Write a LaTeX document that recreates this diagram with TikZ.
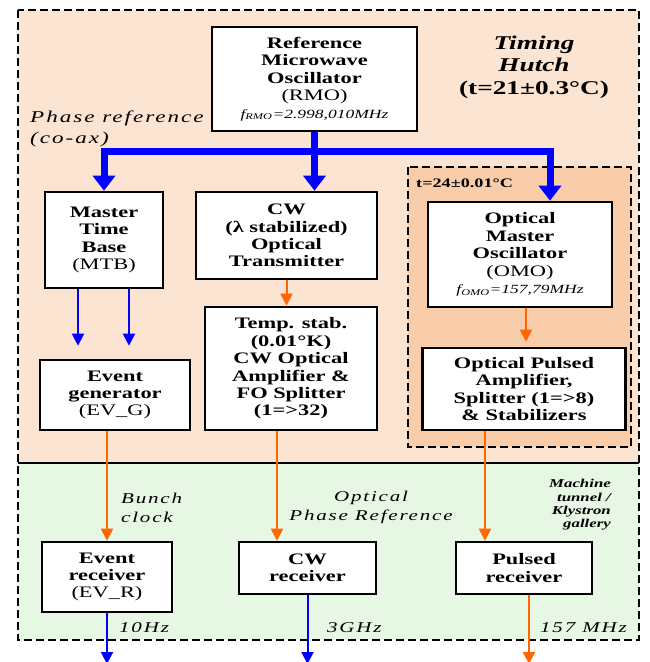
\documentclass[tikz,border=0pt]{standalone}
\usepackage{fontspec}
\setmainfont{Liberation Serif}[FakeStretch=1.4]
\newfontfamily\labfont{Liberation Serif}[FakeStretch=1.4,LetterSpace=12]
\usetikzlibrary{arrows.meta}
\definecolor{peach}{RGB}{252,228,210}
\definecolor{innerorange}{RGB}{249,204,170}
\definecolor{palegreen}{RGB}{230,247,228}
\definecolor{myorange}{RGB}{255,102,0}
\definecolor{myblue}{RGB}{0,0,255}
\tikzset{
  box/.style={draw=black, line width=2.6pt, fill=white, align=center, inner sep=0pt,
    font=\fontsize{16}{17.4}\selectfont\bfseries},
  region/.style={draw=black, line width=2.5pt, dash pattern=on 8pt off 4pt},
  thinblue/.style={draw=myblue, line width=2pt, -{Triangle[width=12pt,length=12pt]}, fill=myblue},
  thinorange/.style={draw=myorange, line width=2pt, -{Triangle[width=12pt,length=12pt]}, fill=myorange},
  bus/.style={draw=myblue, line width=7pt, line join=miter},
  bigtip/.tip={Triangle[width=22pt,length=15pt]},
  lab/.style={inner sep=0pt, font=\labfont\itshape\fontsize{15}{19}\selectfont},
  biglab/.style={inner sep=0pt, anchor=west, font=\labfont\itshape\fontsize{16.5}{19}\selectfont},
  freq/.style={inner sep=0pt, font=\labfont\itshape\fontsize{15}{19}\selectfont, anchor=west}
}
\newcommand{\fsmall}{\mdseries\itshape\fontsize{12.5}{14}\selectfont}
\begin{document}
\begin{tikzpicture}[x=1pt,y=-1pt]
\useasboundingbox (0,0) rectangle (649,662);
\clip (0,0) rectangle (649,662);
\fill[white] (0,0) rectangle (649,662);
% regions
\fill[peach] (18,10) rectangle (639,463);
\fill[palegreen] (18,463) rectangle (639,640);
\fill[innerorange] (408,167) rectangle (631,447);
\draw[region] (408,167) rectangle (631,447);
\draw[line width=2.5pt] (18,463) -- (639,463);
\draw[region] (18,10) rectangle (639,640);
% texts of regions
\node[align=center, inner sep=0pt, font=\fontsize{19.5}{22.5}\selectfont\bfseries] (hutch) at (534,67)
  {\itshape Timing\\\itshape Hutch\\(t=21±0.3°C)};
\node[anchor=west, inner sep=0pt, font=\fontsize{13}{15}\selectfont\bfseries] (t24) at (416,183) {t=24±0.01°C};
\node[biglab] (phref) at (30,118) {Phase reference};
\node[biglab] (coax) at (30,140) {(co-ax)};
\node[lab, anchor=west, align=left] (bunch) at (121,507.5) {Bunch\\clock};
\node[lab, align=center] (opr) at (371,507.5) {Optical\\Phase Reference};
\node[anchor=east, align=right, inner sep=0pt, font=\fontsize{12}{13.3}\selectfont\bfseries\itshape] (tunnel) at (611,505)
  {Machine\\tunnel /\\Klystron\\gallery};
% boxes
\node[box, minimum width=205pt, minimum height=104pt] (RMO) at (314.5,79)
  {Reference\\Microwave\\Oscillator\\{\mdseries (RMO)}\\{\fsmall f\textsubscript{RMO}=2.998,010MHz}};
\node[box, minimum width=118pt, minimum height=96pt] (MTB) at (104,240)
  {Master\\Time\\Base\\{\mdseries (MTB)}};
\node[box, minimum width=181pt, minimum height=87pt] (CW) at (286.5,235.5)
  {CW\\(λ stabilized)\\Optical\\Transmitter};
\node[box, minimum width=184pt, minimum height=105pt] (OMO) at (520,254.5)
  {Optical\\Master\\Oscillator\\{\mdseries (OMO)}\\{\fsmall f\textsubscript{OMO}=157,79MHz}};
\node[box, minimum width=150pt, minimum height=70pt] (EvG) at (115,395)
  {Event\\generator\\{\mdseries (EV\_G)}};
\node[box, minimum width=172pt, minimum height=123pt] (Temp) at (291,368.5)
  {Temp. stab.\\(0.01°K)\\CW Optical\\Amplifier \&\\FO Splitter\\(1=>32)};
\node[box, minimum width=203pt, minimum height=82pt] (OPA) at (524,389)
  {Optical Pulsed\\Amplifier,\\Splitter (1=>8)\\\& Stabilizers};
\node[box, minimum width=130pt, minimum height=70pt] (EvR) at (107,577)
  {Event\\receiver\\{\mdseries (EV\_R)}};
\node[box, minimum width=137pt, minimum height=52pt] (CWR) at (307.5,568)
  {CW\\receiver};
\node[box, minimum width=136pt, minimum height=52pt] (PR) at (524,568)
  {Pulsed\\receiver};
% bus
\coordinate (busR) at (550,151);
\draw[bus, bigtip-bigtip] (MTB.north) |- (busR) -- (busR |- OMO.north);
\draw[bus, -bigtip] (RMO.south) -- (RMO.south |- CW.north);
% MTB -> EvG
\coordinate (m1) at ([xshift=-26pt]MTB.south);
\coordinate (m2) at ([xshift=25pt]MTB.south);
\draw[thinblue, shorten >=13pt] (m1) -- (m1 |- EvG.north);
\draw[thinblue, shorten >=13pt] (m2) -- (m2 |- EvG.north);
% orange arrows
\draw[thinorange] (CW.south) -- (CW.south |- Temp.north);
\coordinate (o1) at ([xshift=6pt]OMO.south);
\draw[thinorange, shorten >=5pt] (o1) -- (o1 |- OPA.north);
\draw[thinorange] (EvG.south -| EvR.north) -- (EvR.north);
\coordinate (t1) at ([xshift=-14pt]Temp.south);
\draw[thinorange] (t1) -- (t1 |- CWR.north);
\coordinate (p1) at ([xshift=-39pt]OPA.south);
\draw[thinorange] (p1) -- (p1 |- PR.north);
% outputs
\coordinate (outlevel) at (0,664);
\draw[thinblue] (EvR.south) -- (EvR.south |- outlevel);
\draw[thinblue] (CWR.south) -- (CWR.south |- outlevel);
\coordinate (p2) at ([xshift=5pt]PR.south);
\draw[thinorange] (p2) -- (p2 |- outlevel);
% frequency labels
\node[freq] (f10) at (119,628) {10Hz};
\node[freq] (f3) at (327,628) {3GHz};
\node[freq] (f157) at (540,628) {157 MHz};
\end{tikzpicture}
\end{document}
